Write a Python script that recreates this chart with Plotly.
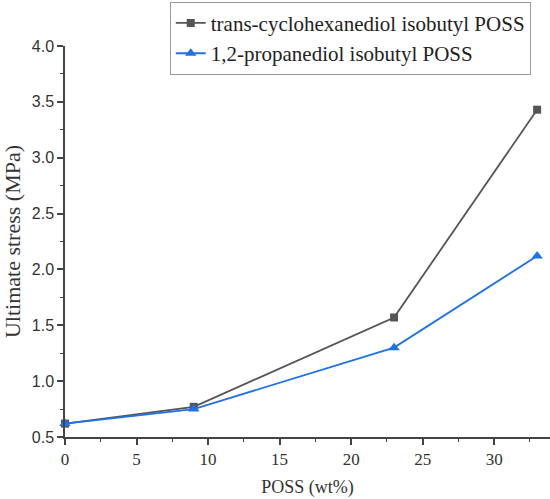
import plotly.graph_objects as go

poss_wt = [0, 9, 23, 33]
trans_cyclo = [0.62, 0.77, 1.57, 3.43]
propanediol = [0.62, 0.75, 1.30, 2.12]
names = ["trans-cyclohexanediol isobutyl POSS", "1,2-propanediol isobutyl POSS"]

fig = go.Figure()
fig.add_trace(go.Scatter(x=poss_wt, y=trans_cyclo, name=names[0], mode="lines+markers",
                         line=dict(color="#555555", width=1.8),
                         marker=dict(symbol="square", size=8, color="#555555"), cliponaxis=False))
fig.add_trace(go.Scatter(x=poss_wt, y=propanediol, name=names[1], mode="lines+markers",
                         line=dict(color="#1f72e8", width=1.8),
                         marker=dict(symbol="triangle-up", size=10, color="#1f72e8"), cliponaxis=False))

serif = "Liberation Serif"
sans = "Liberation Sans"
fig.update_layout(
    width=550, height=499,
    margin=dict(l=65, r=0, t=46, b=62),
    paper_bgcolor="white", plot_bgcolor="white",
    showlegend=True,
    legend=dict(x=0.216, y=1.113, xanchor="left", yanchor="top",
                bordercolor="#999999", borderwidth=1, bgcolor="white",
                font=dict(family=serif, size=21, color="#222222"),
                tracegroupgap=0, itemwidth=30),
    xaxis=dict(range=[0, 33.9], tickmode="linear", tick0=0, dtick=5,
               ticks="outside", ticklen=6, tickwidth=1.5, tickcolor="#444444",
               showline=True, linecolor="#444444", linewidth=1.5, showgrid=False, zeroline=False,
               tickfont=dict(family=serif, size=17, color="#333333"),
               minor=dict(ticks="outside", ticklen=3, tickwidth=1.2, tickcolor="#444444", dtick=2.5),
               title=dict(text="POSS (wt%)", font=dict(family=serif, size=18, color="#333333"), standoff=12)),
    yaxis=dict(range=[0.5, 4.0], tickmode="linear", tick0=0.5, dtick=0.5, tickformat=".1f",
               ticks="outside", ticklen=6, tickwidth=1.5, tickcolor="#444444",
               showline=True, linecolor="#444444", linewidth=1.5, showgrid=False, zeroline=False,
               tickfont=dict(family=sans, size=16, color="#333333"),
               minor=dict(ticks="outside", ticklen=3, tickwidth=1.2, tickcolor="#444444", dtick=0.25),
               title=dict(text="Ultimate stress (MPa)", font=dict(family=serif, size=22, color="#333333"), standoff=5)),
)
fig.write_html("out.html")
